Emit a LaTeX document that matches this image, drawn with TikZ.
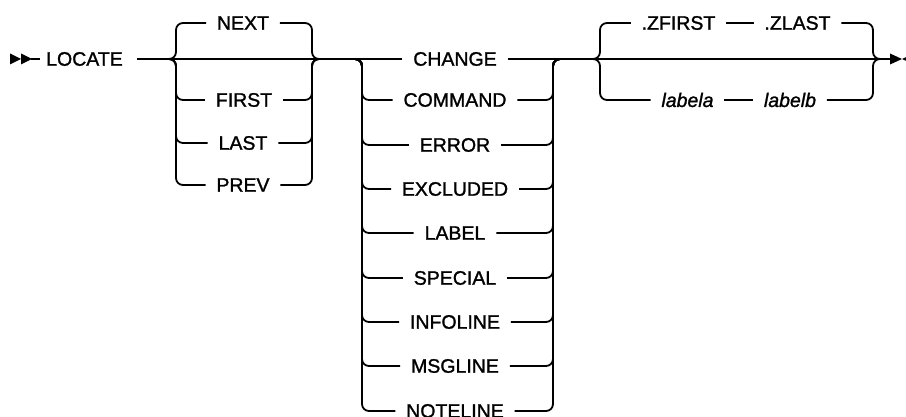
\documentclass[tikz,border=0pt]{standalone}
\usepackage{fontspec}
\setmainfont{Liberation Sans}[FakeBold=1.3]
\begin{document}
\begin{tikzpicture}[x=1pt,y=-1pt,line width=1.8pt,
  lbl/.style={font=\fontsize{19.5}{19.5}\selectfont,inner xsep=10pt,inner ysep=0pt,anchor=center},
  ilbl/.style={lbl,font=\fontsize{19.5}{19.5}\selectfont\itshape},
  rr/.style={rounded corners=7pt}]
\useasboundingbox (0,0) rectangle (906,417);
% start marker
\fill (10,53.5) -- (21,59) -- (10,64.5) -- cycle;
\fill (21,53.5) -- (32,59) -- (21,64.5) -- cycle;
\coordinate (s0) at (31,59);
\coordinate (s1) at (40,59);
\draw (s0) -- (s1);
\node[lbl,inner xsep=0pt] (locate) at (84.5,59) {LOCATE};
\coordinate (m0) at (137,59);
% junction coordinates
\coordinate (g1a) at (166,59);
\coordinate (g1l) at (176,59);
\coordinate (g1r) at (312,59);
\coordinate (g1b) at (322,59);
\coordinate (g2a) at (352,59);
\coordinate (g2l) at (362,59);
\coordinate (g2r) at (553,59);
\coordinate (g2b) at (563,59);
\coordinate (g3a) at (590,59);
\coordinate (g3l) at (600,59);
\coordinate (g3r) at (873,59);
\coordinate (g3b) at (883,59);
\coordinate (endm) at (891,59);
% group 1
\node[lbl] (next)  at (243,23)  {NEXT};
\node[lbl] (first) at (244,100) {FIRST};
\node[lbl] (last)  at (243,143) {LAST};
\node[lbl] (prev)  at (243,185) {PREV};
% group 2
\node[lbl] (change)   at (455,59)  {CHANGE};
\node[lbl] (command)  at (455,100) {COMMAND};
\node[lbl] (error)    at (455,145) {ERROR};
\node[lbl] (excluded) at (455,189) {EXCLUDED};
\node[lbl] (label)    at (455,233) {LABEL};
\node[lbl] (special)  at (455,278) {SPECIAL};
\node[lbl] (infoline) at (455,322) {INFOLINE};
\node[lbl] (msgline)  at (455,366) {MSGLINE};
\node[lbl] (noteline) at (455,411) {NOTELINE};
% group 3
\node[lbl]  (zfirst) at (678.5,23) {.ZFIRST};
\node[lbl]  (zlast)  at (797.5,23) {.ZLAST};
\node[ilbl] (labela) at (687.5,100) {labela};
\node[ilbl] (labelb) at (790,100) {labelb};
% main line
\draw (m0) -- (change.west);
\draw (change.east) -- (endm);
% group 1 branches
\foreach \n in {next,first,last,prev}{
  \draw[rr] (g1a) -- (g1l) |- (\n.west);
  \draw[rr] (\n.east) -| (g1r) -- (g1b);
}
% group 2 branches
\foreach \n in {command,error,excluded,label,special,infoline,msgline,noteline}{
  \draw[rr] (g2a) -- (g2l) |- (\n.west);
  \draw[rr] (\n.east) -| (g2r) -- (g2b);
}
% group 3 branches
\draw[rr] (g3a) -- (g3l) |- (zfirst.west);
\draw (zfirst.east) -- (zlast.west);
\draw[rr] (zlast.east) -| (g3r) -- (g3b);
\draw[rr] (g3a) -- (g3l) |- (labela.west);
\draw (labela.east) -- (labelb.west);
\draw[rr] (labelb.east) -| (g3r) -- (g3b);
% end marker
\fill (890,53.5) -- (902,59) -- (890,64.5) -- cycle;
\fill (914,53.5) -- (902,59) -- (914,64.5) -- cycle;
\end{tikzpicture}
\end{document}
